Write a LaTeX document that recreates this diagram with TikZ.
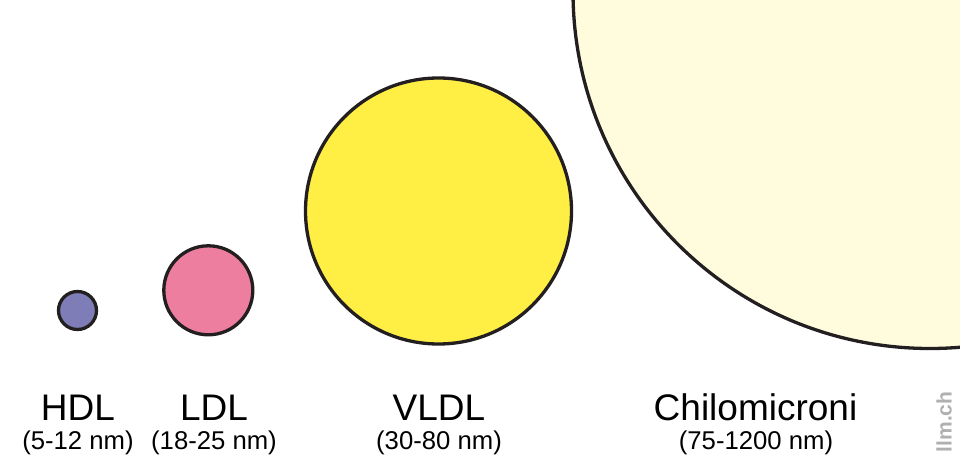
\documentclass[tikz,border=0pt]{standalone}
\usepackage{fontspec}
\setmainfont{Liberation Sans}
\definecolor{outline}{HTML}{231F20}
\definecolor{hdlc}{HTML}{7F7DB8}
\definecolor{ldlc}{HTML}{EE7EA0}
\definecolor{vldlc}{HTML}{FFEE44}
\definecolor{chyc}{HTML}{FFFCDE}
\definecolor{markc}{HTML}{B0B0B0}
\begin{document}
\begin{tikzpicture}[x=1pt,y=-1pt,
  particle/.style={circle, draw=outline, line width=3.3pt, inner sep=0pt},
  ptitle/.style={anchor=base, inner sep=0pt, font=\fontsize{37}{42}\selectfont},
  prange/.style={anchor=base, inner sep=0pt, font=\fontsize{25.7}{30}\selectfont}]
\useasboundingbox (0,0) rectangle (960,462);
\clip (0,0) rectangle (960,462);
\node[particle, fill=chyc, minimum size=714pt] (chy) at (930,-8.5) {};
\node[particle, fill=vldlc, minimum size=266pt] (vldl) at (438.5,211) {};
\node[particle, fill=ldlc, minimum size=89pt] (ldl) at (208.3,290.3) {};
\node[particle, fill=hdlc, minimum size=38pt] (hdl) at (77.5,310.5) {};
\node[ptitle] (hdlt) at (78,420) {HDL};
\node[prange] (hdls) at (78,449) {(5-12 nm)};
\node[ptitle] (ldlt) at (214,420) {LDL};
\node[prange] (ldls) at (214,449) {(18-25 nm)};
\node[ptitle] (vldlt) at (439,420) {VLDL};
\node[prange] (vldls) at (439,449) {(30-80 nm)};
\node[ptitle] (chyt) at (755.5,420) {Chilomicroni};
\node[prange] (chys) at (756,449) {(75-1200 nm)};
\node[rotate=90, anchor=center, inner sep=0pt, text=markc, font=\bfseries\fontsize{21}{24}\selectfont] (mark) at (944,422) {llm.ch};
\end{tikzpicture}
\end{document}
